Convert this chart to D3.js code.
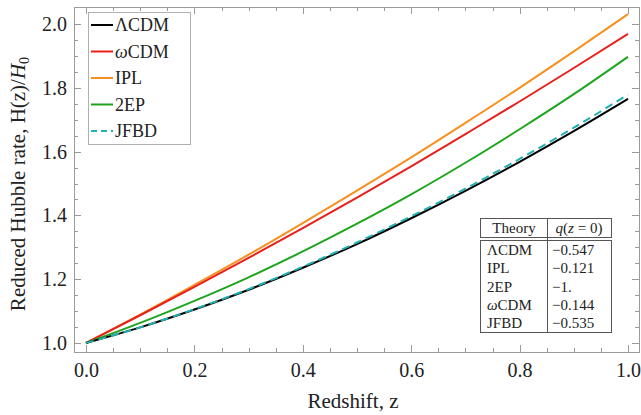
<!DOCTYPE html>
<html>
<head>
<meta charset="utf-8">
<script src="https://cdn.jsdelivr.net/npm/d3@7"></script>
<style>
  body { margin: 0; background: #fff; }
  svg { display: block; }
  svg text { font-family: "Liberation Serif", "Times New Roman", "DejaVu Serif", serif; }
</style>
</head>
<body>
<svg id="chart" width="641" height="415"></svg>
<script>
// Redshift samples
const redshift = [0.0, 0.1, 0.2, 0.3, 0.4, 0.5, 0.6, 0.7, 0.8, 0.9, 1.0];

// Reduced Hubble rate H(z)/H0 for each model
const lcdm = [1.000, 1.049, 1.105, 1.167, 1.236, 1.310, 1.391, 1.477, 1.568, 1.664, 1.765];
const wcdm = [1.000, 1.087, 1.176, 1.267, 1.360, 1.456, 1.554, 1.655, 1.757, 1.862, 1.969];
const ipl  = [1.000, 1.089, 1.182, 1.277, 1.376, 1.478, 1.582, 1.690, 1.800, 1.914, 2.031];
const twoEP = [1.000, 1.063, 1.132, 1.206, 1.287, 1.374, 1.466, 1.565, 1.670, 1.780, 1.897];
const jfbd = [1.000, 1.049, 1.106, 1.169, 1.239, 1.315, 1.397, 1.484, 1.577, 1.675, 1.779];

const seriesNames = ["ΛCDM", "ωCDM", "IPL", "2EP", "JFBD"];
const seriesColors = ["#000000", "#e8201c", "#f7901e", "#1ea51e", "#1fb0b0"];

// Deceleration parameter table
const tableTheories = ["ΛCDM", "IPL", "2EP", "ωCDM", "JFBD"];
const tableQ0 = ["−0.547", "−0.121", "−1.", "−0.144", "−0.535"];

const xTicks = [0.0, 0.2, 0.4, 0.6, 0.8, 1.0];
const yTicks = [1.0, 1.2, 1.4, 1.6, 1.8, 2.0];

const serif = "'Liberation Serif', 'Times New Roman', 'DejaVu Serif', serif";
const svg = d3.select("#chart");
const frame = { left: 74, right: 639, top: 7, bottom: 352 };

const x = d3.scaleLinear().domain([0, 1]).range([86, 628]);
const y = d3.scaleLinear().domain([1, 2]).range([343, 24]);

const frameColor = "#9a9a9a";

// Plot frame
svg.append("rect")
  .attr("x", frame.left + 0.5).attr("y", frame.top + 0.5)
  .attr("width", frame.right - frame.left).attr("height", frame.bottom - frame.top)
  .attr("fill", "none").attr("stroke", frameColor).attr("stroke-width", 1);

// Minor + major ticks on all four sides, pointing inward
const minorX = d3.range(0, 1.0001, 0.05);
const minorY = d3.range(1, 2.0001, 0.05);
const isMajor = v => Math.abs(v * 5 - Math.round(v * 5)) < 1e-6;
const tickG = svg.append("g").attr("stroke", frameColor).attr("stroke-width", 1);
minorX.forEach(v => {
  const len = isMajor(v) ? 7 : 4;
  const px = Math.round(x(v)) + 0.5;
  tickG.append("line").attr("x1", px).attr("x2", px).attr("y1", frame.bottom).attr("y2", frame.bottom - len);
  tickG.append("line").attr("x1", px).attr("x2", px).attr("y1", frame.top).attr("y2", frame.top + len);
});
minorY.forEach(v => {
  const len = isMajor(v) ? 7 : 4;
  const py = Math.round(y(v)) + 0.5;
  tickG.append("line").attr("y1", py).attr("y2", py).attr("x1", frame.left).attr("x2", frame.left + len);
  tickG.append("line").attr("y1", py).attr("y2", py).attr("x1", frame.right).attr("x2", frame.right - len);
});

// Tick labels via d3 axes (lines hidden, text only)
const xAxis = svg.append("g")
  .attr("transform", `translate(0,${frame.bottom})`)
  .call(d3.axisBottom(x).tickValues(xTicks).tickFormat(d3.format(".1f")).tickSize(0).tickPadding(11));
const yAxis = svg.append("g")
  .attr("transform", `translate(${frame.left},0)`)
  .call(d3.axisLeft(y).tickValues(yTicks).tickFormat(d3.format(".1f")).tickSize(0).tickPadding(7));
[xAxis, yAxis].forEach(g => {
  g.attr("font-family", serif);
  g.select(".domain").remove();
  g.selectAll("text")
    .style("font-family", serif)
    .attr("font-size", 20).attr("fill", "#222");
});

// Curves
const line = d3.line().x((d, i) => x(redshift[i])).y(d => y(d)).curve(d3.curveMonotoneX);
const seriesData = [lcdm, wcdm, ipl, twoEP, jfbd];
const drawOrder = [2, 1, 3, 0, 4];
drawOrder.forEach(k => {
  svg.append("path")
    .attr("d", line(seriesData[k]))
    .attr("fill", "none")
    .attr("stroke", seriesColors[k])
    .attr("stroke-width", 2)
    .attr("stroke-dasharray", seriesNames[k] === "JFBD" ? "8,5" : null);
});

// Legend
const legend = svg.append("g");
legend.append("rect")
  .attr("x", 88.5).attr("y", 12.5).attr("width", 102).attr("height", 132)
  .attr("fill", "#fff").attr("stroke", "#b0b0b0").attr("stroke-width", 1);
seriesNames.forEach((name, i) => {
  const cy = 25 + i * 26.5;
  legend.append("line")
    .attr("x1", 91).attr("x2", 113).attr("y1", cy).attr("y2", cy)
    .attr("stroke", seriesColors[i]).attr("stroke-width", 2)
    .attr("stroke-dasharray", name === "JFBD" ? "6,4" : null);
  const t = legend.append("text").attr("x", 115).attr("y", cy + 6)
    .attr("font-size", 18).attr("fill", "#222");
  if (name === "ωCDM") {
    t.append("tspan").attr("font-style", "italic").text("ω");
    t.append("tspan").text("CDM");
  } else {
    t.text(name);
  }
});

// Table of q(z=0)
const tbl = svg.append("g").attr("font-size", 15).attr("fill", "#222");
tbl.append("rect").attr("x", 474).attr("y", 212).attr("width", 145).attr("height", 127).attr("fill", "#fff");
const tb = { l: 480.5, r: 611.5, mid: 547.5 };
tbl.append("rect").attr("x", tb.l).attr("y", 218.5).attr("width", tb.r - tb.l).attr("height", 19)
  .attr("fill", "none").attr("stroke", "#555").attr("stroke-width", 1);
tbl.append("rect").attr("x", tb.l).attr("y", 240.5).attr("width", tb.r - tb.l).attr("height", 92)
  .attr("fill", "none").attr("stroke", "#555").attr("stroke-width", 1);
tbl.append("line").attr("x1", tb.mid).attr("x2", tb.mid).attr("y1", 218.5).attr("y2", 332.5)
  .attr("stroke", "#555").attr("stroke-width", 1);
tbl.append("text").attr("x", 514).attr("y", 233).attr("text-anchor", "middle").text("Theory");
const hq = tbl.append("text").attr("x", 579).attr("y", 233).attr("text-anchor", "middle");
hq.append("tspan").attr("font-style", "italic").text("q");
hq.append("tspan").text("(");
hq.append("tspan").attr("font-style", "italic").text("z");
hq.append("tspan").text(" = 0)");
tableTheories.forEach((name, i) => {
  const by = 255 + i * 18.3;
  const t = tbl.append("text").attr("x", 487).attr("y", by);
  if (name === "ωCDM") {
    t.append("tspan").attr("font-style", "italic").text("ω");
    t.append("tspan").text("CDM");
  } else {
    t.text(name);
  }
  tbl.append("text").attr("x", 552).attr("y", by).text(tableQ0[i]);
});

// Axis titles
svg.append("text")
  .attr("x", 353).attr("y", 408).attr("text-anchor", "middle")
  .attr("font-size", 21).attr("fill", "#222").text("Redshift, z");
const yl = svg.append("text")
  .attr("transform", "translate(25,184) rotate(-90)")
  .attr("text-anchor", "middle").attr("font-size", 21).attr("fill", "#222");
yl.append("tspan").text("Reduced Hubble rate, H(z)/");
yl.append("tspan").attr("font-style", "italic").text("H");
yl.append("tspan").attr("font-size", 14).attr("dy", 4).text("0");
</script>
</body>
</html>
